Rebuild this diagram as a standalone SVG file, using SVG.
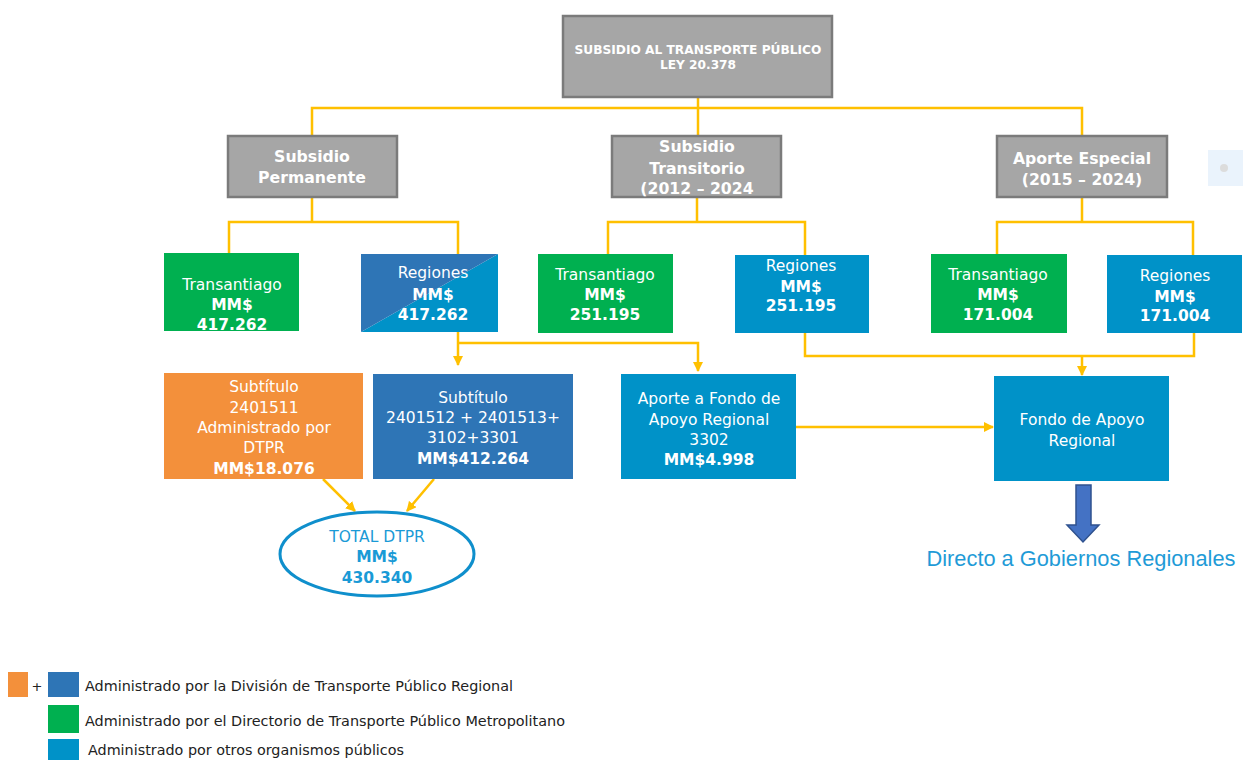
<svg xmlns="http://www.w3.org/2000/svg" width="1243" height="760" viewBox="0 0 1243 760">
<defs>
<marker id="ya" viewBox="0 0 10 10" refX="9" refY="5" markerWidth="4" markerHeight="4" orient="auto" markerUnits="strokeWidth">
<path d="M0,0 L10,5 L0,10 z" fill="#ffc000"/>
</marker>
</defs>
<style>
.grey{fill:#a6a6a6;stroke:#7b7b7b;stroke-width:2.5}
.green{fill:#00b050}
.dblue{fill:#2e75b6}
.lblue{fill:#0092c8}
.orange{fill:#f3903b}
.hd{font-family:"DejaVu Sans",Verdana,sans-serif;font-weight:bold;fill:#ffffff;text-anchor:middle}
.t{font-family:"DejaVu Sans",Verdana,sans-serif;font-size:15.5px;fill:#ffffff;text-anchor:middle}
.b{font-weight:bold}
.ln{fill:none;stroke:#ffc000;stroke-width:2.5}
.lg{font-family:"DejaVu Sans Condensed","DejaVu Sans",sans-serif;font-size:14px;fill:#222222}
.dir{font-family:"Liberation Sans",Arial,sans-serif;font-size:21.8px;fill:#1f9bd7;text-anchor:middle}
</style>
<rect width="1243" height="760" fill="#ffffff"/>

<g id="connectors">
<path class="ln" d="M698,97 V136"/>
<path class="ln" d="M312,136 V108 H1082 V136"/>
<path class="ln" d="M312,197 V222 M229,253 V222 H458 V254"/>
<path class="ln" d="M697,197 V222 M608,254 V222 H805 V255"/>
<path class="ln" d="M1082,197 V222 M997,254 V222 H1193 V255"/>
<path class="ln" d="M458,332 V365" marker-end="url(#ya)"/>
<path class="ln" d="M458,343 H698 V371" marker-end="url(#ya)"/>
<path class="ln" d="M805,333 V356 H1194 V333"/>
<path class="ln" d="M1082,356 V375" marker-end="url(#ya)"/>
<path class="ln" d="M796,427 H993" marker-end="url(#ya)"/>
<path class="ln" d="M323,479 L355,511" marker-end="url(#ya)"/>
<path class="ln" d="M434,479 L407,511" marker-end="url(#ya)"/>
<path d="M1076,485 H1091 V525 H1099 L1083,542 L1067,525 H1076 Z" fill="#4472c4" stroke="#2f528f" stroke-width="1.5"/>
</g>

<g id="n-top">
<rect class="grey" x="563" y="16" width="269" height="81"/>
<text class="hd" font-size="12.2" x="698" y="54">SUBSIDIO AL TRANSPORTE PÚBLICO</text>
<text class="hd" font-size="12.2" x="698" y="69">LEY 20.378</text>
</g>

<g id="n-permanente">
<rect class="grey" x="228" y="136" width="169" height="61"/>
<text class="hd" font-size="15.7" x="312" y="162">Subsidio</text>
<text class="hd" font-size="15.7" x="312" y="183">Permanente</text>
</g>

<g id="n-transitorio">
<rect class="grey" x="612" y="136" width="169" height="61"/>
<text class="hd" font-size="15.7" x="697" y="152">Subsidio</text>
<text class="hd" font-size="15.7" x="697" y="174">Transitorio</text>
<text class="hd" font-size="15.7" x="697" y="194">(2012 – 2024</text>
</g>

<g id="n-especial">
<rect class="grey" x="997" y="136" width="170" height="61"/>
<text class="hd" font-size="15.7" x="1082" y="164">Aporte Especial</text>
<text class="hd" font-size="15.7" x="1082" y="185">(2015 – 2024)</text>
</g>

<g id="n-deco">
<rect x="1208" y="150" width="35" height="36" fill="#eaf3fc"/>
<circle cx="1224" cy="168" r="4" fill="#dcdcdc"/>
</g>

<g id="n-transantiago1">
<rect class="green" x="164" y="253" width="135" height="78"/>
<text class="t" x="232" y="290">Transantiago</text>
<text class="t b" x="232" y="309.5">MM$</text>
<text class="t b" x="232" y="329.5">417.262</text>
</g>

<g id="n-regiones1">
<polygon class="lblue" points="498,254 498,332 361,332"/>
<polygon class="dblue" points="361,254 498,254 361,332"/>
<text class="t" x="433" y="278">Regiones</text>
<text class="t b" x="433" y="300">MM$</text>
<text class="t b" x="433" y="319.5">417.262</text>
</g>

<g id="n-transantiago2">
<rect class="green" x="538" y="254" width="135" height="79"/>
<text class="t" x="605" y="280">Transantiago</text>
<text class="t b" x="605" y="300">MM$</text>
<text class="t b" x="605" y="319.5">251.195</text>
</g>

<g id="n-regiones2">
<rect class="lblue" x="735" y="255" width="134" height="78"/>
<text class="t" x="801" y="271">Regiones</text>
<text class="t b" x="801" y="292">MM$</text>
<text class="t b" x="801" y="311">251.195</text>
</g>

<g id="n-transantiago3">
<rect class="green" x="931" y="254" width="136" height="79"/>
<text class="t" x="998" y="280">Transantiago</text>
<text class="t b" x="998" y="300">MM$</text>
<text class="t b" x="998" y="319.5">171.004</text>
</g>

<g id="n-regiones3">
<rect class="lblue" x="1107" y="255" width="135" height="78"/>
<text class="t" x="1175" y="281">Regiones</text>
<text class="t b" x="1175" y="301.5">MM$</text>
<text class="t b" x="1175" y="321">171.004</text>
</g>

<g id="n-sub-orange">
<rect class="orange" x="164" y="373" width="199" height="106"/>
<text class="t" x="264" y="392">Subtítulo</text>
<text class="t" x="264" y="413">2401511</text>
<text class="t" x="264" y="433">Administrado por</text>
<text class="t" x="264" y="452.5">DTPR</text>
<text class="t b" x="264" y="474">MM$18.076</text>
</g>

<g id="n-sub-blue">
<rect class="dblue" x="373" y="374" width="200" height="105"/>
<text class="t" x="473" y="403">Subtítulo</text>
<text class="t" x="473" y="423">2401512 + 2401513+</text>
<text class="t" x="473" y="443">3102+3301</text>
<text class="t b" x="473" y="463.5">MM$412.264</text>
</g>

<g id="n-aporte">
<rect class="lblue" x="621" y="374" width="175" height="105"/>
<text class="t" x="709" y="403.5">Aporte a Fondo de</text>
<text class="t" x="709" y="425">Apoyo Regional</text>
<text class="t" x="709" y="444.5">3302</text>
<text class="t b" x="709" y="464.5">MM$4.998</text>
</g>

<g id="n-fondo">
<rect class="lblue" x="994" y="376" width="175" height="105"/>
<text class="t" x="1082" y="425">Fondo de Apoyo</text>
<text class="t" x="1082" y="446">Regional</text>
</g>

<g id="n-total">
<ellipse cx="377" cy="554" rx="97" ry="42" fill="#ffffff" stroke="#0f8fcc" stroke-width="3"/>
<text class="t" style="fill:#1a9ad6" x="377" y="542">TOTAL DTPR</text>
<text class="t b" style="fill:#1a9ad6" x="377" y="561.5">MM$</text>
<text class="t b" style="fill:#1a9ad6" x="377" y="582.5">430.340</text>
</g>

<g id="n-directo">
<text class="dir" x="1081" y="566">Directo a Gobiernos Regionales</text>
</g>

<g id="legend">
<rect x="8" y="672" width="20" height="25" fill="#f3903b"/>
<text x="37" y="691" font-family="DejaVu Sans, sans-serif" font-size="13" fill="#222222" text-anchor="middle">+</text>
<rect x="48" y="672" width="31" height="25" fill="#2e75b6"/>
<text class="lg" x="85" y="691" textLength="428" lengthAdjust="spacingAndGlyphs">Administrado por la División de Transporte Público Regional</text>
<rect x="48" y="705" width="31" height="28" fill="#00b050"/>
<text class="lg" x="85" y="726" textLength="480" lengthAdjust="spacingAndGlyphs">Administrado por el Directorio de Transporte Público Metropolitano</text>
<rect x="48" y="739" width="31" height="21" fill="#0092c8"/>
<text class="lg" x="88" y="755" textLength="316" lengthAdjust="spacingAndGlyphs">Administrado por otros organismos públicos</text>
</g>
</svg>
